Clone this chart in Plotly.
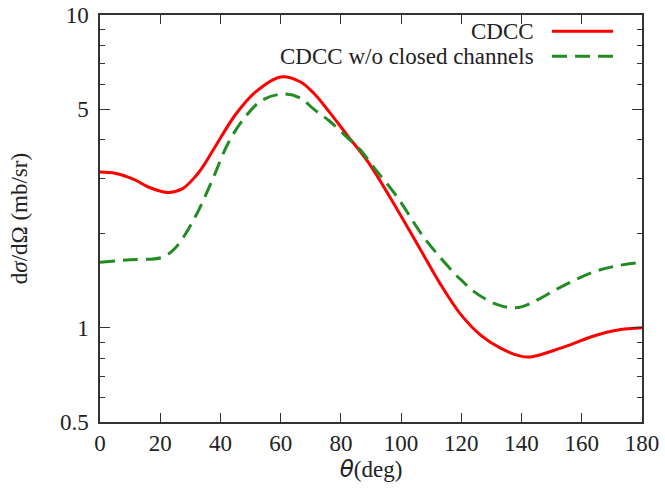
import plotly.graph_objects as go

# Data
theta_cdcc = [0, 5, 11.6, 16, 22.6, 27.3, 31.6, 34.3, 38.3, 44.9, 51.6, 60, 66.5, 71, 76, 82, 89, 98.7,
              106.4, 113.1, 119.8, 126.4, 133, 139.7, 143, 153, 164, 172, 180]
sigma_cdcc = [3.15, 3.12, 2.97, 2.82, 2.71, 2.78, 3.04, 3.29, 3.80, 4.79, 5.67, 6.34, 6.12, 5.62, 4.92, 4.14, 3.39, 2.39,
              1.78, 1.377, 1.104, 0.948, 0.861, 0.812, 0.807, 0.861, 0.942, 0.984, 1.0]

theta_noc = [0, 10, 20.6, 25, 31.6, 37.3, 42.6, 48.2, 54, 61, 66.5, 71, 76, 82, 86.5, 90.8, 98.7,
             107.5, 117.5, 120, 124, 128, 132, 136, 140, 145.4, 153, 164, 172, 180]
sigma_noc = [1.62, 1.65, 1.68, 1.80, 2.26, 2.97, 3.90, 4.72, 5.35, 5.59, 5.43, 5.00, 4.60, 4.07, 3.70, 3.27, 2.62,
             1.95, 1.50, 1.42, 1.31, 1.236, 1.186, 1.16, 1.167, 1.23, 1.35, 1.51, 1.58, 1.62]

series_names = ["CDCC", "CDCC w/o closed channels"]
x_ticks = [0, 20, 40, 60, 80, 100, 120, 140, 160, 180]
y_major = [0.5, 1, 5, 10]
y_major_text = ["0.5", "1", "5", "10"]
y_minor = [0.6, 0.7, 0.8, 0.9, 2, 3, 4, 6, 7, 8, 9]

FONT = "Liberation Serif, serif"
FS = 23
TXT = "#222222"
RED = "#ff0000"
GREEN = "#228b22"

fig = go.Figure()
fig.add_trace(go.Scatter(x=theta_cdcc, y=sigma_cdcc, mode="lines", name=series_names[0],
                         line=dict(color=RED, width=3, shape="spline", smoothing=1.0)))
fig.add_trace(go.Scatter(x=theta_noc, y=sigma_noc, mode="lines", name=series_names[1],
                         line=dict(color=GREEN, width=3, dash="15px,8px", shape="spline", smoothing=1.0)))

axis_common = dict(showgrid=False, zeroline=False, showline=True, linecolor="#333333", linewidth=1.5,
                   ticks="inside", tickcolor="#333333", mirror="ticks", automargin=False,
                   tickfont=dict(family=FONT, size=FS, color=TXT))

fig.update_xaxes(range=[0, 180], tickmode="array", tickvals=x_ticks, ticklen=9, tickwidth=1,
                 title=dict(text="<span style=\"font-family:'DejaVu Sans'\"><i>θ</i></span>(deg)",
                            font=dict(family=FONT, size=FS, color=TXT), standoff=4),
                 **axis_common)
fig.update_yaxes(type="log", range=[-0.30103, 1], tickmode="array", tickvals=y_major, ticktext=y_major_text,
                 ticklen=10, tickwidth=1, ticklabelstandoff=5,
                 minor=dict(tickmode="array", tickvals=y_minor, ticklen=5, tickcolor="#333333", ticks="inside", showgrid=False),
                 title=dict(text="d<i>σ</i>/dΩ (mb/sr)", font=dict(family=FONT, size=FS, color=TXT), standoff=26),
                 **axis_common)

# Legend: text right aligned with line sample to the right (gnuplot style)
leg_y = [0.960, 0.8985]
leg_styles = [dict(color=RED, width=3), dict(color=GREEN, width=3, dash="15px,8px")]
for name, yy, st in zip(series_names, leg_y, leg_styles):
    fig.add_annotation(xref="paper", yref="paper", x=0.805, y=yy, text=name, showarrow=False,
                       xanchor="right", yanchor="middle", font=dict(family=FONT, size=23, color=TXT))
    fig.add_shape(type="line", xref="paper", yref="paper", x0=0.834, x1=0.9465, y0=yy, y1=yy, line=st)

fig.update_layout(width=665, height=493, margin=dict(l=100, r=23, t=15, b=71),
                  plot_bgcolor="white", paper_bgcolor="white", showlegend=False,
                  font=dict(family=FONT, size=FS, color=TXT))

fig.write_html("out.html")
